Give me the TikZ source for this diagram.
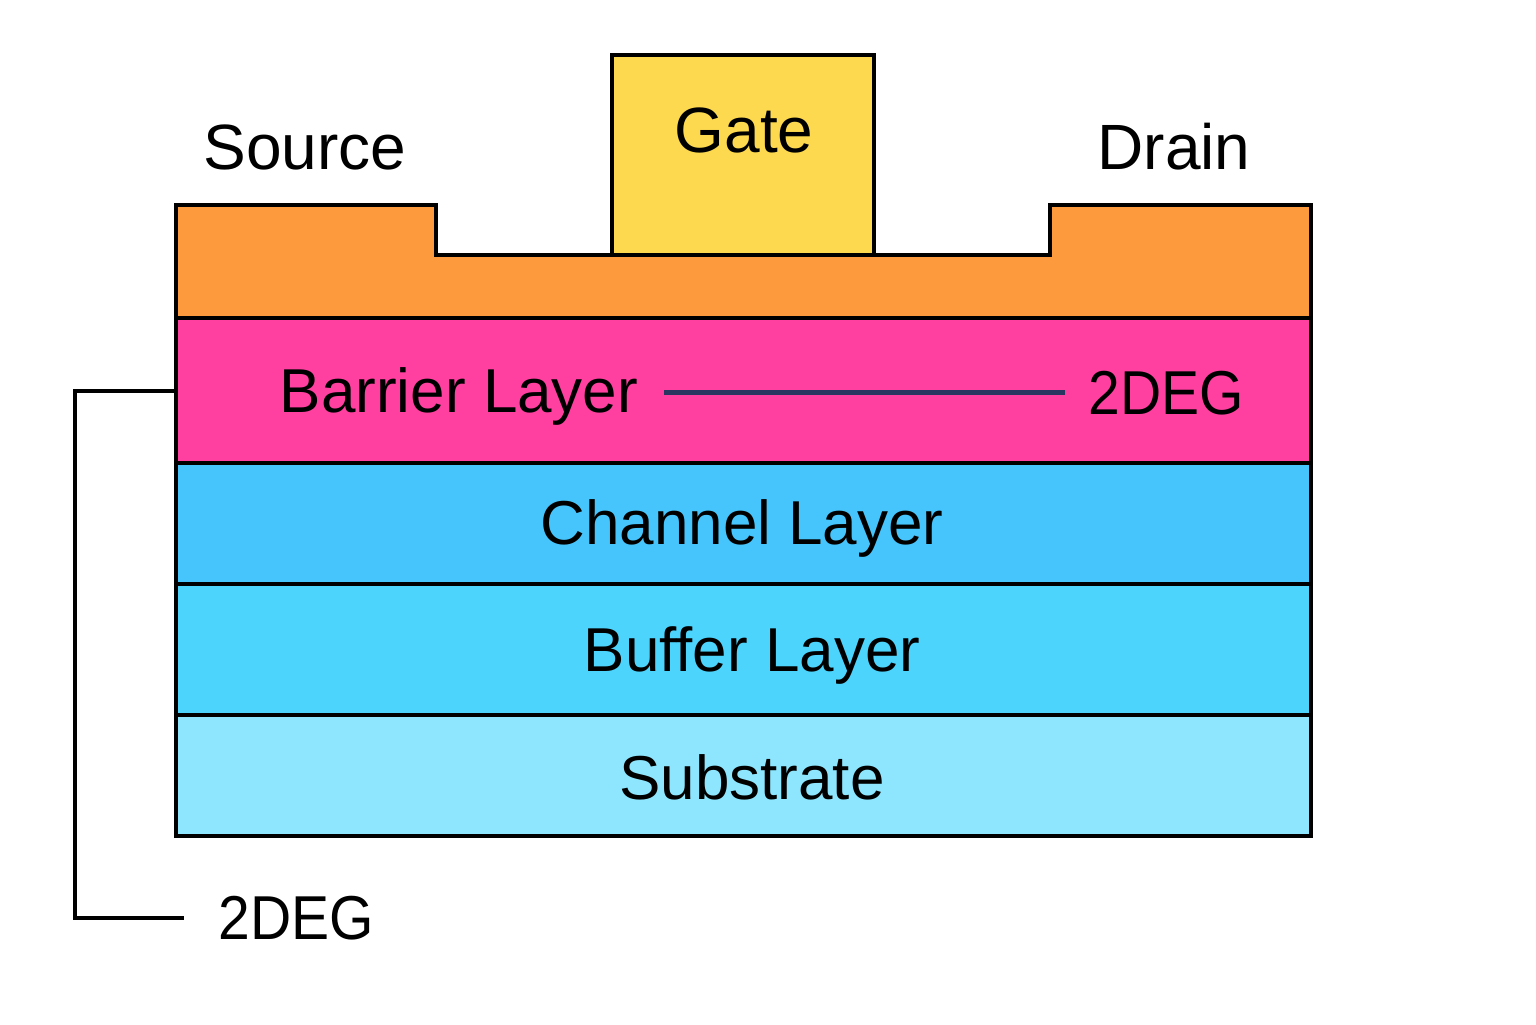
\documentclass[tikz,border=0pt]{standalone}
\usepackage{fontspec}
\setmainfont{Liberation Sans}
\definecolor{orangeL}{HTML}{FE9A3E}
\definecolor{gateY}{HTML}{FDD94F}
\definecolor{pinkL}{HTML}{FF40A0}
\definecolor{chanL}{HTML}{45C5FC}
\definecolor{bufL}{HTML}{4DD4FD}
\definecolor{subL}{HTML}{8DE6FD}
\definecolor{navyL}{HTML}{2A3560}
\begin{document}
\begin{tikzpicture}[x=0.5pt,y=-0.5pt,
  layer/.style={draw=black,line width=1.8pt,line join=miter},
  lbl/.style={font=\fontsize{31}{36}\selectfont,text=black,inner sep=0pt},
  deg/.style={font=\fontsize{31}{36}\selectfont,text=black,inner sep=0pt,xscale=0.92},
  big/.style={font=\fontsize{32}{38}\selectfont,text=black,inner sep=0pt}]
\useasboundingbox (0,0) rectangle (1536,1024);
% layers
\filldraw[layer,fill=subL] (176,715) rectangle (1311,836);
\filldraw[layer,fill=bufL] (176,584) rectangle (1311,715);
\filldraw[layer,fill=chanL] (176,463) rectangle (1311,584);
\filldraw[layer,fill=pinkL] (176,318) rectangle (1311,463);
\filldraw[layer,fill=orangeL] (176,318) -- (176,205) -- (436,205) -- (436,255) -- (1050,255) -- (1050,205) -- (1311,205) -- (1311,318) -- cycle;
\filldraw[layer,fill=gateY] (612,255) rectangle (874,55);
% labels
\node[big] (src) at (305,147) {Source};
\node[big] (gate) at (744,130) {Gate};
\node[big] (drn) at (1174,147) {Drain};
\node[lbl] (bar) at (459,396) {Barrier Layer};
\node[deg] (deg1) at (1166,393) {2DEG};
\node[lbl] (chan) at (742,528) {Channel Layer};
\node[lbl] (buf) at (752,655) {Buffer Layer};
\node[lbl] (sub) at (752,777) {Substrate};
\node[deg,anchor=west] (deg2) at (218,918) {2DEG};
% 2DEG line
\coordinate (la) at (664,392);
\coordinate (lb) at (1065,392);
\draw[navyL,line width=2.5pt] (la) -- (lb);
% bracket
\coordinate (b0) at (176,391);
\coordinate (b1) at (75,391);
\coordinate (b2) at (75,918);
\coordinate (b3) at (184,918);
\draw[black,line width=1.8pt] (b0) -- (b1) -- (b2) -- (b3);
\end{tikzpicture}
\end{document}
